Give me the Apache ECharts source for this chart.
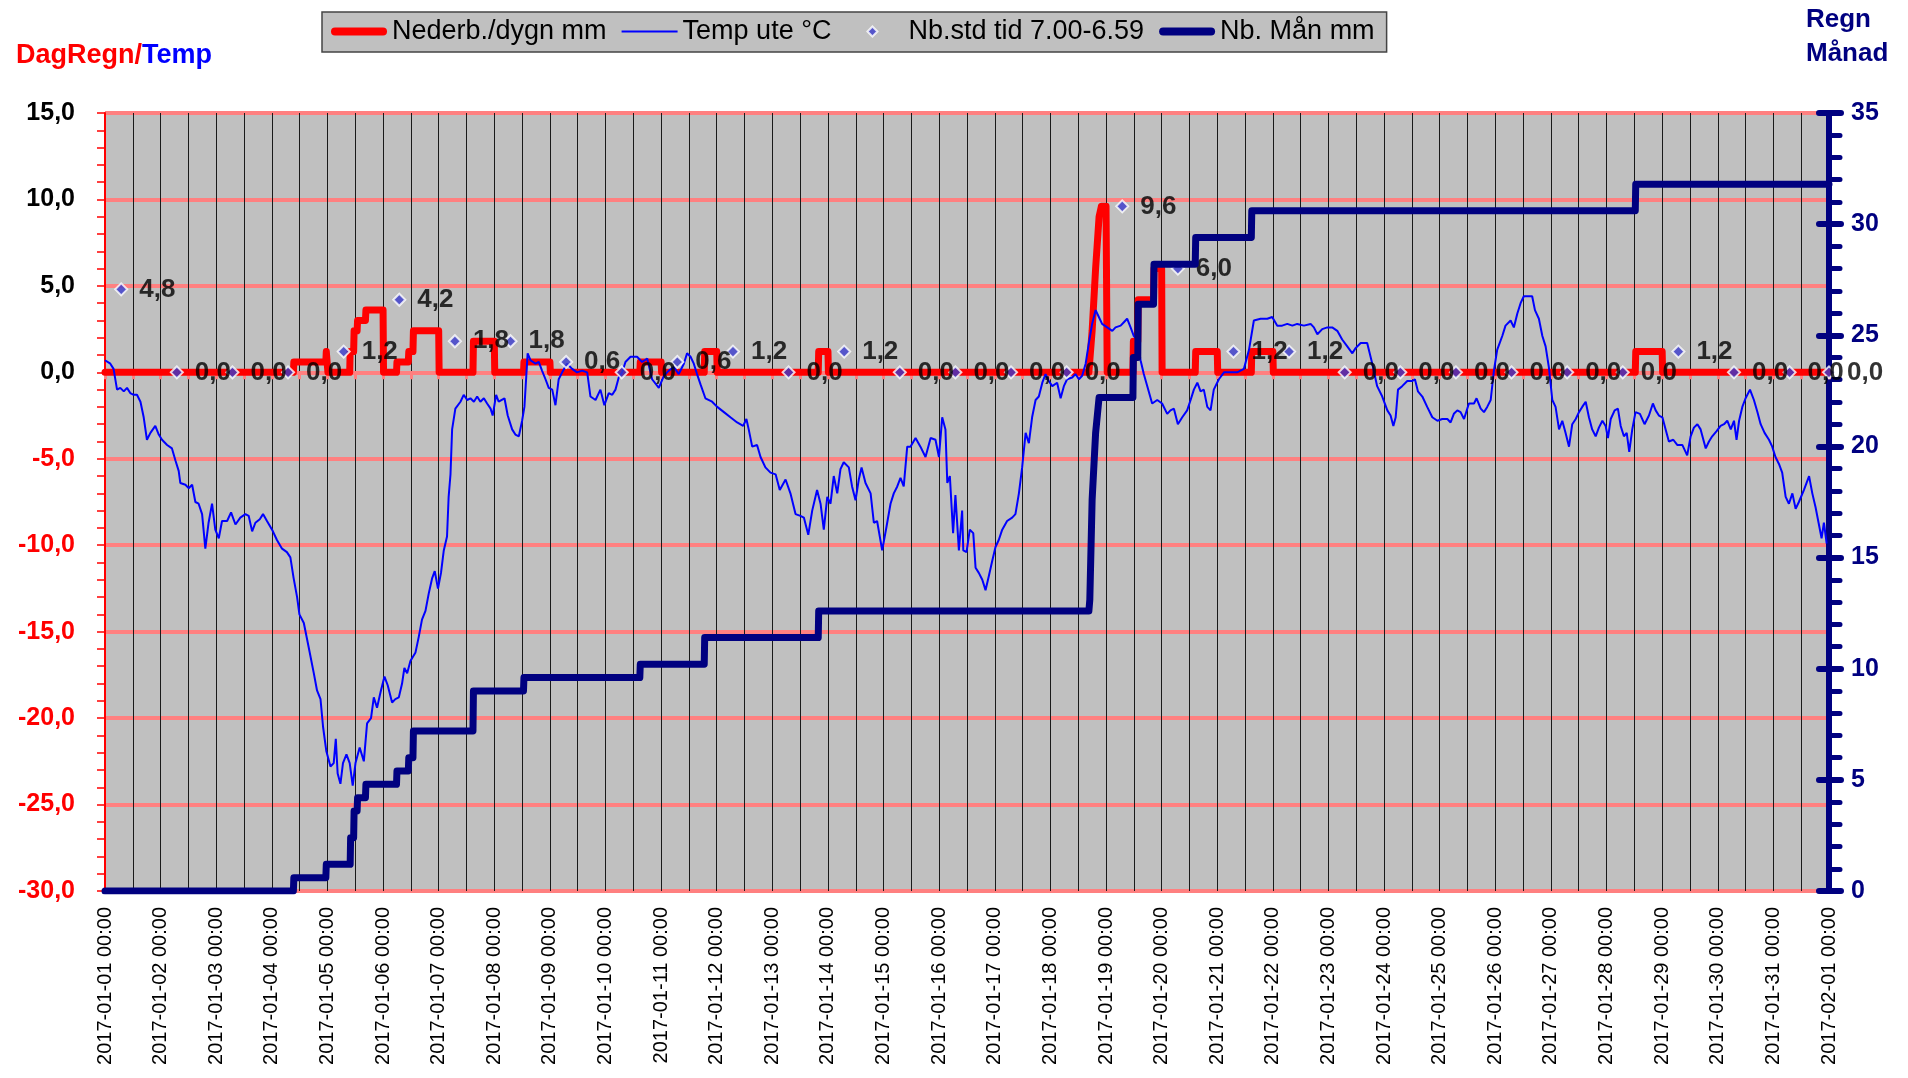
<!DOCTYPE html>
<html>
<head>
<meta charset="utf-8">
<script src="https://cdn.jsdelivr.net/npm/echarts@6/dist/echarts.min.js"></script>
<style>
html,body{margin:0;padding:0;background:#fff;}
#chart{width:1908px;height:1078px;}
</style>
</head>
<body>
<div id="chart"></div>
<script>
// Time values are hours since 2017-01-01 00:00
const START_UTC = Date.UTC(2017, 0, 1);
const X_MAX_HOURS = 744; // 2017-02-01 00:00

const leftTicks = [-30, 15, 5];   // min, max, interval
const rightTicks = [0, 35, 5];

// Temp ute °C  [hour, value]
const tempData = [
[0,0.7],[2.3,0.5],[3.7,0.2],[5.2,-1.0],[6.6,-0.9],[8.1,-1.1],[9.5,-0.9],[10.9,-1.2],[12.4,-1.3],[13.8,-1.3],[15.3,-1.7],[16.7,-2.6],[18.1,-3.9],[19.6,-3.5],[21.7,-3.1],[23.2,-3.6],[24.6,-3.9],[26.8,-4.2],[28.9,-4.4],[30.4,-5.1],[31.8,-5.7],[32.5,-6.4],[34.7,-6.5],[36.1,-6.7],[37.6,-6.5],[39.0,-7.5],[40.4,-7.6],[41.9,-8.2],[43.3,-10.2],[44.7,-8.7],[46.2,-7.6],[47.6,-9.1],[49.1,-9.6],[50.5,-8.6],[52.7,-8.6],[54.4,-8.1],[56.3,-8.8],[58.4,-8.4],[60.6,-8.2],[62.0,-8.3],[63.5,-9.2],[64.9,-8.7],[66.8,-8.5],[68.2,-8.2],[69.9,-8.6],[72.1,-9.1],[74.2,-9.7],[76.4,-10.2],[78.5,-10.4],[80.0,-10.7],[81.4,-11.9],[82.9,-13.0],[83.9,-14.0],[85.8,-14.5],[87.9,-15.9],[90.1,-17.4],[91.5,-18.4],[93.0,-18.9],[94.1,-20.5],[95.5,-21.9],[97.3,-22.8],[98.7,-22.6],[99.6,-21.2],[100.4,-23.2],[101.6,-23.8],[102.7,-22.6],[104.2,-22.1],[105.6,-22.6],[106.9,-23.9],[108.1,-22.6],[109.9,-21.7],[111.7,-22.5],[113.1,-20.3],[114.8,-20.0],[116.0,-18.8],[117.4,-19.4],[118.9,-18.5],[120.6,-17.6],[122.0,-18.1],[123.9,-19.1],[125.3,-18.9],[126.8,-18.8],[128.2,-18.0],[129.2,-17.1],[130.4,-17.4],[131.8,-16.7],[134.0,-16.2],[135.4,-15.3],[136.8,-14.3],[138.3,-13.8],[139.7,-12.8],[141.2,-11.9],[142.3,-11.5],[143.7,-12.5],[145.0,-11.6],[146.2,-10.3],[147.6,-9.5],[148.3,-7.2],[149.1,-5.9],[149.8,-3.3],[151.2,-2.1],[153.4,-1.7],[154.8,-1.3],[156.3,-1.6],[157.7,-1.5],[159.2,-1.7],[160.6,-1.4],[162.0,-1.7],[163.5,-1.5],[164.9,-1.8],[166.4,-2.1],[167.3,-2.5],[168.8,-1.3],[169.9,-1.7],[172.4,-1.5],[173.8,-2.5],[175.7,-3.3],[177.1,-3.6],[178.6,-3.7],[180.0,-2.8],[181.0,-2.0],[182.4,1.1],[183.6,0.7],
[185.8,0.5],[187.2,0.6],[188.6,0.1],[190.1,-0.4],[191.5,-0.9],[193.0,-1.0],[194.4,-1.9],[195.8,-0.4],[197.3,0.0],[199.4,0.5],[201.6,0.2],[203.7,0.0],[205.9,0.1],[208.1,0.0],[209.5,-1.4],[211.7,-1.6],[213.8,-1.0],[215.5,-1.9],[217.4,-1.2],[218.9,-1.3],[220.3,-1.0],[221.7,-0.3],[223.2,0.0],[224.6,0.6],[226.8,0.9],[229.6,0.9],[231.8,0.6],[234.0,0.8],[236.1,-0.4],[239.0,-0.9],[241.2,-0.2],[243.3,0.1],[245.5,0.3],[247.6,-0.1],[249.8,0.5],[251.2,1.1],[252.7,0.9],[254.1,0.5],[255.5,-0.1],[257.0,-0.7],[259.1,-1.5],[262.0,-1.7],[264.2,-2.0],[267.1,-2.3],[269.9,-2.6],[272.8,-2.9],[275.4,-3.1],[276.8,-2.7],[277.8,-3.3],[279.3,-4.3],[281.4,-4.2],[282.9,-4.9],[285.0,-5.5],[287.2,-5.8],[289.4,-5.9],[291.2,-6.8],[293.7,-6.2],[295.8,-7.0],[298.0,-8.2],[300.1,-8.3],[301.6,-8.4],[303.5,-9.4],[305.2,-8.0],[307.3,-6.8],[308.8,-7.6],[310.2,-9.1],[311.7,-7.2],[313.1,-7.6],[314.5,-6.0],[316.0,-7.0],[317.4,-5.6],[318.8,-5.2],[321.0,-5.5],[322.4,-6.6],[323.9,-7.4],[325.3,-6.2],[326.5,-5.5],[328.2,-6.4],[330.4,-7.0],[331.8,-8.7],[333.2,-8.6],[335.4,-10.3],[337.3,-8.9],[339.0,-7.6],[340.4,-7.0],[341.9,-6.6],[343.3,-6.1],[344.7,-6.6],[346.2,-4.3],[347.6,-4.3],[349.8,-3.8],[351.9,-4.3],[354.1,-4.9],[356.3,-3.8],[358.4,-3.9],[359.9,-4.9],[361.3,-2.6],[362.7,-3.3],[363.5,-6.4],[364.6,-6.0],[366.0,-9.3],[367.0,-7.1],[368.5,-10.3],[369.9,-8.0],
[370.4,-10.3],[371.8,-10.4],[373.2,-9.1],[374.7,-9.3],[375.7,-11.3],[377.1,-11.6],[378.6,-12.0],[380.0,-12.6],[381.4,-11.8],[382.9,-10.9],[384.3,-10.1],[385.7,-9.7],[387.2,-9.1],[389.3,-8.6],[391.5,-8.4],[392.9,-8.2],[394.4,-7.0],[395.8,-5.5],[397.3,-3.5],[398.7,-4.1],[400.1,-2.6],[401.6,-1.6],[403.0,-1.4],[404.5,-0.6],[405.9,-0.1],[407.3,-0.5],[408.8,-0.8],[410.9,-0.6],[412.4,-1.5],[413.8,-0.8],[415.2,-0.4],[417.4,-0.3],[418.8,-0.1],[420.3,-0.4],[421.7,-0.2],[423.2,0.5],[424.6,1.7],[426.0,2.8],[427.5,3.6],[428.9,3.2],[430.3,2.8],[432.5,2.6],[434.7,2.4],[436.1,2.6],[438.3,2.7],[439.7,2.9],[441.1,3.1],[442.6,2.6],[444.0,2.1],[445.5,1.9],[446.9,0.7],[448.3,-0.1],[449.8,-0.8],[451.9,-1.8],[454.1,-1.6],[456.2,-1.8],[458.4,-2.4],[459.8,-2.2],[461.3,-2.1],[463.0,-3.0],[464.9,-2.6],[467.0,-2.2],[468.5,-1.6],[469.9,-1.0],[471.4,-0.6],[472.8,-1.1],[474.2,-1.0],[475.7,-2.0],[477.1,-2.2],[478.5,-1.0],[480.7,-0.4],[482.9,0.0],[485.7,0.0],[488.6,0.0],[491.5,0.2],[493.7,1.3],[495.8,3.0],[498.7,3.1],[501.6,3.1],[503.7,3.2],[505.9,2.7],[508.0,2.7],[510.2,2.8],[512.4,2.7],[514.5,2.8],[517.4,2.7],[520.3,2.8],[521.7,2.6],[523.2,2.2],[525.3,2.5],[527.5,2.6],[529.6,2.6],[531.8,2.4],[533.9,1.9],[536.1,1.5],[538.3,1.1],[539.7,1.4],[541.9,1.7],[544.7,1.7],[546.9,0.5],[549.0,-0.8],[551.2,-1.4],[553.4,-2.2],
[554.8,-2.5],[556.0,-3.1],[557.0,-2.6],[558.0,-1.0],[559.8,-0.8],[562.0,-0.5],[564.2,-0.5],[565.3,-0.4],[566.6,-1.1],[568.5,-1.4],[570.6,-2.0],[572.8,-2.6],[575.0,-2.8],[577.1,-2.7],[579.3,-2.7],[580.7,-2.9],[582.1,-2.4],[583.6,-2.2],[585.0,-2.3],[586.5,-2.7],[588.6,-1.8],[590.8,-1.8],[591.9,-1.5],[593.7,-2.1],[595.1,-2.3],[596.5,-2.0],[598.0,-1.6],[599.4,0.1],[600.8,1.3],[603.0,2.1],[604.4,2.7],[606.6,3.0],[608.0,2.6],[609.5,3.4],[610.9,4.0],[612.3,4.4],[614.5,4.4],[615.9,4.4],[617.1,3.6],[618.8,3.1],[620.3,2.1],[621.7,1.5],[623.1,0.3],[624.6,-1.6],[626.0,-2.0],[627.5,-3.3],[628.9,-2.8],[630.3,-3.5],[631.8,-4.3],[633.2,-3.0],[634.7,-2.7],[636.1,-2.3],[637.5,-2.0],[639.0,-1.7],[640.4,-2.6],[641.8,-3.3],[643.3,-3.7],[644.7,-3.2],[646.2,-2.8],[647.6,-3.1],[648.6,-3.8],[649.8,-2.7],[651.5,-2.2],[652.9,-2.1],[654.1,-3.1],[655.5,-3.7],[656.7,-3.5],[657.8,-4.6],[659.1,-3.3],[660.5,-2.3],[662.4,-2.4],[664.4,-3.0],[666.3,-2.5],[668.0,-1.8],[669.2,-2.2],[670.6,-2.5],[672.1,-2.6],[673.5,-3.3],[674.9,-4.0],[676.8,-3.9],[678.5,-4.2],[680.7,-4.2],[682.8,-4.8],[684.3,-3.7],[685.7,-3.2],[687.2,-3.0],[688.6,-3.3],[690.8,-4.4],[692.2,-4.0],[693.6,-3.7],[695.5,-3.4],[697.2,-3.1],[698.7,-3.0],[700.1,-2.8],[701.6,-3.3],[703.0,-2.8],[704.1,-3.9],[705.2,-2.8],[706.6,-2.0],[708.0,-1.5],[709.9,-1.0],[711.6,-1.6],[713.1,-2.3],[714.5,-3.0],[716.2,-3.5],[718.1,-3.9],[719.5,-4.3],[720.9,-4.9],[722.4,-5.3],[723.8,-5.8],[725.3,-7.2],[726.7,-7.6],[728.2,-7.0],[729.6,-7.9],[731.0,-7.5],[733.2,-6.8],[735.4,-6.0],[736.8,-7.0],[738.2,-7.8],[739.5,-8.7],[740.8,-9.6],[741.8,-8.7],[743.0,-9.9]
];

// Nederb./dygn mm [hour, mm]
const dailyRain = [
[0,0],[81.3,0],[81.5,0.6],[95.3,0.6],[95.5,1.2],[96,1.2],[96.2,0],
[105.6,0],[105.8,1.2],[107.3,1.2],[107.5,2.4],[108.8,2.4],[109,3.0],[112.4,3.0],[112.6,3.6],[120,3.6],[120.2,0],
[125.8,0],[126,0.6],[130.9,0.6],[131.1,1.2],[132.9,1.2],[133.1,2.4],[144,2.4],[144.2,0],
[158.8,0],[159,1.8],[168,1.8],[168.2,0],
[180.6,0],[180.8,0.6],[192,0.6],[192.2,0],
[230.8,0],[231,0.6],[240,0.6],[240.2,0],
[258.6,0],[258.8,1.2],[264,1.2],[264.2,0],
[307.8,0],[308,1.2],[312,1.2],[312.2,0],
[424.6,0],[426,2.4],[427.5,6.0],[429,9.0],[430,9.6],[432,9.6],[432.5,0],
[443.6,0],[443.8,1.8],[445.7,1.8],[445.9,4.2],[452.5,4.2],[452.7,6.0],[456,6.0],[456.2,0],
[470.5,0],[470.7,1.2],[480,1.2],[480.2,0],
[494.7,0],[494.9,1.2],[504,1.2],[504.2,0],
[660.4,0],[660.6,1.2],[672,1.2],[672.2,0],
[744,0]
];

// Nb.std tid 7.00-6.59 [hour, mm]
const stdPoints = [
[7,4.8],[31,0.0],[55,0.0],[79,0.0],[103,1.2],[127,4.2],[151,1.8],[175,1.8],[199,0.6],[223,0.0],
[247,0.6],[271,1.2],[295,0.0],[319,1.2],[343,0.0],[367,0.0],[391,0.0],[415,0.0],[439,9.6],[463,6.0],
[487,1.2],[511,1.2],[535,0.0],[559,0.0],[583,0.0],[607,0.0],[631,0.0],[655,0.0],[679,1.2],[703,0.0],
[727,0.0],[744,0.0]
];

// Nb. Mån mm [hour, mm]
const monthRain = [
[0,0],[81.3,0],[81.5,0.6],[95.3,0.6],[95.5,1.2],[105.8,1.2],[106,2.4],[107.3,2.4],[107.5,3.6],[108.8,3.6],[109,4.2],[112.4,4.2],[112.6,4.8],
[125.8,4.8],[126,5.4],[130.9,5.4],[131.1,6.0],[132.9,6.0],[133.1,7.2],[158.8,7.2],[159,9.0],[180.6,9.0],[180.8,9.6],
[230.8,9.6],[231,10.2],[258.6,10.2],[258.8,11.4],[307.8,11.4],[308,12.6],
[424.6,12.6],[425,13.1],[426,17.6],[427.5,20.6],[429,22.2],[443.6,22.2],[443.8,24.0],[445.7,24.0],[445.9,26.4],[452.5,26.4],[452.7,28.2],
[470.5,28.2],[470.7,29.4],[494.7,29.4],[494.9,30.6],[660.4,30.6],[660.6,31.8],[744,31.8]
];

const FONT = "'Liberation Sans', Arial, sans-serif";
const NAVY = '#000080';
const PINK = '#ff8080';
const DIAMOND = '#3a3acc';

// legend icon shapes (56 x 12 boxes)
const ICON_THICK = 'path://M4,0 H52 A4,4 0 0 1 52,8 H4 A4,4 0 0 1 4,0 Z';
const ICON_THIN = 'path://M0,0 H56 V2 H0 Z';
const ICON_DIAMOND = 'path://M0,6 L0.01,6 M25,1 L30,6 L25,11 L20,6 Z M56,6 L56.01,6';

function pad(n){ return (n < 10 ? '0' : '') + n; }
function hourLabel(h){
  const d = new Date(START_UTC + h * 3600000);
  return d.getUTCFullYear() + '-' + pad(d.getUTCMonth()+1) + '-' + pad(d.getUTCDate()) +
         ' ' + pad(d.getUTCHours()) + ':' + pad(d.getUTCMinutes());
}
function comma1(v){ return Number(v).toFixed(1).replace('.', ','); }

const chart = echarts.init(document.getElementById('chart'), null, {renderer: 'canvas'});

const option = {
  backgroundColor: '#ffffff',
  animation: false,
  textStyle: { fontFamily: FONT },
  title: [
    {
      text: '{r|DagRegn/}{b|Temp}',
      left: 11, top: 37,
      textStyle: {
        rich: {
          r: { color: '#ff0000', fontSize: 27, fontWeight: 'bold', fontFamily: FONT },
          b: { color: '#0000ff', fontSize: 27, fontWeight: 'bold', fontFamily: FONT }
        }
      }
    },
    {
      text: 'Regn\nMånad',
      left: 1801, top: -2,
      textAlign: 'left',
      textStyle: { color: NAVY, fontSize: 26, fontWeight: 'bold', lineHeight: 34, fontFamily: FONT }
    }
  ],
  legend: {
    left: 322, top: 12,
    padding: [6, 12, 7, 9],
    itemGap: 15,
    itemWidth: 56,
    itemHeight: 12,
    symbolKeepAspect: true,
    backgroundColor: '#c0c0c0',
    borderColor: '#444',
    borderWidth: 1.5,
    textStyle: { fontSize: 27, color: '#000', fontFamily: FONT },
    data: [
      { name: 'Nederb./dygn mm', icon: ICON_THICK, itemStyle: { color: '#ff0000', borderWidth: 0 } },
      { name: 'Temp ute °C', icon: ICON_THIN, itemStyle: { color: '#0000ff', borderWidth: 0 } },
      { name: 'Nb.std tid 7.00-6.59', icon: ICON_DIAMOND,
        itemStyle: { color: DIAMOND, borderColor: '#ffffff', borderWidth: 2 } },
      { name: 'Nb. Mån mm', icon: ICON_THICK, itemStyle: { color: NAVY, borderWidth: 0 } }
    ]
  },
  grid: {
    left: 105, right: 79, top: 113, bottom: 187,
    show: true, backgroundColor: '#c0c0c0', borderWidth: 0
  },
  xAxis: [
    {
      type: 'value', min: 0, max: X_MAX_HOURS, interval: 24,
      position: 'bottom',
      axisLine: { show: false, onZero: false },
      axisTick: { show: false },
      splitLine: { show: false },
      axisLabel: {
        rotate: 90, fontSize: 20, color: '#000', margin: 16, fontFamily: FONT,
        showMinLabel: true, showMaxLabel: true,
        formatter: hourLabel
      }
    },
    {
      type: 'value', min: 0, max: X_MAX_HOURS, interval: 12,
      position: 'bottom',
      axisLine: { show: true, onZero: true, onZeroAxisIndex: 0, lineStyle: { color: PINK, width: 3 } },
      axisTick: { show: true, length: 7, lineStyle: { color: PINK, width: 3 } },
      axisLabel: { show: false },
      splitLine: { show: true, lineStyle: { color: '#1a1a1a', width: 1 } }
    }
  ],
  yAxis: [
    {
      type: 'value', min: leftTicks[0], max: leftTicks[1], interval: leftTicks[2],
      position: 'left',
      axisLine: { show: true, onZero: false, lineStyle: { color: '#ff0000', width: 2 } },
      axisTick: { show: true, length: 8, lineStyle: { color: '#ff0000', width: 1.5 } },
      minorTick: { show: true, splitNumber: 5, length: 8, lineStyle: { color: '#ff0000', width: 1.5 } },
      splitLine: { show: true, lineStyle: { color: PINK, width: 4 } },
      axisLabel: {
        fontSize: 25, fontWeight: 'bold', margin: 30, fontFamily: FONT,
        color: function(v){ return v < 0 ? '#ff0000' : '#000000'; },
        formatter: comma1
      }
    },
    {
      type: 'value', min: rightTicks[0], max: rightTicks[1], interval: rightTicks[2],
      position: 'right', offset: 0,
      axisLine: { show: true, onZero: false, lineStyle: { color: NAVY, width: 6 } },
      axisTick: { show: true, length: 12, lineStyle: { color: NAVY, width: 6, cap: 'round' } },
      minorTick: { show: true, splitNumber: 5, length: 11, lineStyle: { color: NAVY, width: 5, cap: 'round' } },
      splitLine: { show: false },
      axisLabel: { fontSize: 25, fontWeight: 'bold', color: NAVY, margin: 22, fontFamily: FONT }
    },
    {
      type: 'value', min: rightTicks[0], max: rightTicks[1], interval: rightTicks[2],
      position: 'right', offset: 0,
      axisLine: { show: false, onZero: false },
      axisTick: { show: true, inside: true, length: 10, lineStyle: { color: NAVY, width: 6, cap: 'round' } },
      splitLine: { show: false },
      axisLabel: { show: false }
    }
  ],
  series: [
    {
      name: 'Nederb./dygn mm', type: 'line', xAxisIndex: 1, yAxisIndex: 0,
      data: dailyRain, showSymbol: false, symbol: 'none',
      lineStyle: { color: '#ff0000', width: 7, cap: 'round', join: 'round' },
      itemStyle: { color: '#ff0000' },
      z: 2
    },
    {
      name: 'Temp ute °C', type: 'line', xAxisIndex: 1, yAxisIndex: 0,
      data: tempData, showSymbol: false, symbol: 'none',
      lineStyle: { color: '#0000ff', width: 2 },
      itemStyle: { color: '#0000ff' },
      z: 3
    },
    {
      name: 'Nb.std tid 7.00-6.59', type: 'scatter', xAxisIndex: 1, yAxisIndex: 0,
      data: stdPoints, symbol: 'diamond', symbolSize: 12, clip: false,
      itemStyle: { color: DIAMOND, borderColor: '#ffffff', borderWidth: 2 },
      label: {
        show: true, position: 'right', distance: 11,
        fontSize: 26, fontWeight: 'bold', color: '#000', fontFamily: FONT,
        formatter: function(p){ return comma1(p.value[1]); }
      },
      z: 4
    },
    {
      name: 'Nb. Mån mm', type: 'line', xAxisIndex: 1, yAxisIndex: 1,
      data: monthRain, showSymbol: false, symbol: 'none',
      lineStyle: { color: NAVY, width: 7, cap: 'round', join: 'round' },
      itemStyle: { color: NAVY },
      z: 5
    }
  ]
};
chart.setOption(option);
</script>
</body>
</html>
